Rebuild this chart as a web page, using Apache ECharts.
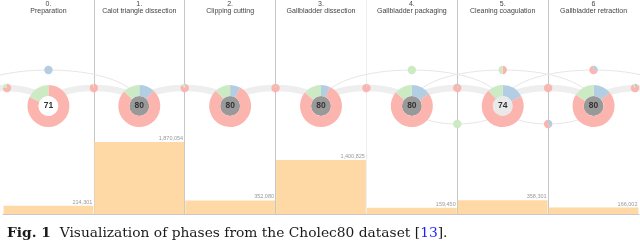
<!DOCTYPE html>
<html><head><meta charset="utf-8">
<script src="https://cdn.jsdelivr.net/npm/echarts@6/dist/echarts.min.js"></script>
<style>html,body{margin:0;padding:0;background:#fff;overflow:hidden}#c{width:640px;height:243px}</style>
</head><body><div id="c"></div>
<script>
// ---------- data ----------
const phaseNames = ['Preparation','Calot triangle dissection','Clipping cutting','Gallbladder dissection','Gallbladder packaging','Cleaning coagulation','Gallbladder retraction'];
const phaseNumbers = ['0.','1.','2.','3.','4.','5.','6'];
const frameCounts = [214301, 1870054, 352080, 1400825, 159450, 358301, 166002];
const videoCounts = [71, 80, 80, 80, 80, 74, 80];
// ring shares per phase, order: blue, red, green (clockwise from 12 o'clock)
const ringBlue  = [0, 12, 8, 7, 15, 17, 14];
const ringRed   = [82, 75, 80, 79, 71, 71, 70];
const ringGreen = [18, 13, 12, 14, 14, 12, 16];
// forward transitions at boundaries 0..7 (boundary k sits between phase k-1 and k)
const linkBlue  = [0, 0, 8, 8, 6, 12, 6, 10];
const linkRed   = [75, 95, 80, 92, 94, 88, 94, 80];
const linkGreen = [25, 5, 12, 0, 0, 0, 0, 10];
// skip transitions drawn above, passing over these phase columns
const skipCols  = [0, 4, 5, 6];
const skipBlue  = [100, 0, 0, 30];
const skipRed   = [0, 0, 50, 70];
const skipGreen = [0, 100, 50, 0];
// backward transitions drawn below, at these boundaries
const backBounds = [5, 6];
const backBlue  = [0, 40];
const backRed   = [0, 60];
const backGreen = [100, 0];

// ---------- layout / style ----------
const palette = ['#b3cde3', '#fbb4ae', '#ccebc5'];
const Y_ROW = 106, Y_LINK = 88, Y_SKIP = 70, Y_BACK = 124;
const R_OUT = 21, R_IN = 10, R_SMALL = 4.2;
const LINE = '#c6c6c6', LINE_FAINT = '#eeeeee';
const CAP_FONT = 13.8;

const chart = echarts.init(document.getElementById('c'), null, {renderer: 'canvas', width: 640, height: 243});

const base = {
  animation: false,
  grid: {left: 3, right: 1, top: 0, bottom: 29, containLabel: false},
  title: {
    left: 2, top: 221,
    text: '{b|Fig. 1}  Visualization of phases from the Cholec80 dataset [{l|13}].',
    textStyle: {
      fontFamily: 'DejaVu Serif', fontSize: CAP_FONT, fontWeight: 'normal', color: '#1a1a1a',
      rich: {
        b: {fontFamily: 'DejaVu Serif', fontSize: CAP_FONT, fontWeight: 'bold', color: '#1a1a1a'},
        l: {fontFamily: 'DejaVu Serif', fontSize: CAP_FONT, color: '#1e1eff'}
      }
    }
  },
  xAxis: [{
    type: 'category', data: phaseNames, boundaryGap: true,
    axisLine: {show: true, lineStyle: {color: '#c8c8c8', width: 1}},
    axisTick: {show: false}, axisLabel: {show: false},
    splitLine: {show: true, interval: 0, showMinLine: false, showMaxLine: false,
      lineStyle: {color: [LINE, LINE, LINE, LINE_FAINT, LINE, LINE, LINE, LINE], width: 1}}
  }, {
    type: 'category', data: phaseNames, position: 'top', gridIndex: 0, boundaryGap: true,
    axisLine: {show: false}, axisTick: {show: false}, splitLine: {show: false},
    axisLabel: {inside: true, interval: 0, margin: 1, fontSize: 7, lineHeight: 7,
      fontFamily: 'Liberation Sans', color: '#444', verticalAlign: 'top',
      formatter: (v, i) => phaseNumbers[i] + '\n' + v}
  }],
  yAxis: [{type: 'value', min: 0, max: 5550000, show: false, splitLine: {show: false}}],
  series: [{
    type: 'bar', data: frameCounts, xAxisIndex: 0, barCategoryGap: '1.2%', silent: true,
    itemStyle: {color: '#fed9a6'},
    label: {show: true, position: 'insideTopRight', distance: 1, offset: [0, -7.5],
      fontSize: 5.5, fontFamily: 'Liberation Sans', color: '#999',
      formatter: p => p.value.toLocaleString('en-US')}
  }]
};
chart.setOption(base);

// positions derived from the category axis
const cx0 = chart.convertToPixel({xAxisIndex: 0}, 0);
const step = chart.convertToPixel({xAxisIndex: 0}, 1) - cx0;
const colX = i => cx0 + step * i;             // phase column centre (virtual outside range)
const bndX = k => cx0 + step * (k - 0.5);     // boundary between k-1 and k
const gridL = cx0 - step / 2, gridR = cx0 + step * (phaseNames.length - 0.5);

function gray(v) {
  const t = (v - 71) / 9;
  const g = Math.round(255 - 102 * Math.pow(Math.max(0, t), 1.4));
  return 'rgb(' + g + ',' + g + ',' + g + ')';
}
function pie(x, y, radius, vals, extra) {
  return Object.assign({
    type: 'pie', center: [x, y], radius: radius, startAngle: 90, clockwise: true,
    silent: true, animation: false, avoidLabelOverlap: false, minAngle: 0, z: 5,
    label: {show: false}, labelLine: {show: false}, emphasis: {disabled: true},
    itemStyle: {borderWidth: 0},
    data: vals.map((v, j) => ({value: v, itemStyle: {color: palette[j]}}))
  }, extra || {});
}

const series = [base.series[0]];
const graphics = [];

function link(xa, xb, yPass, color, width) {
  const h = (yPass - 0.25 * Y_ROW) / 0.75;
  graphics.push({type: 'bezierCurve', silent: true, z: 1,
    shape: {x1: xa, y1: Y_ROW, cpx1: xa, cpy1: h, cpx2: xb, cpy2: h, x2: xb, y2: Y_ROW},
    style: {stroke: color, lineWidth: width, fill: null}});
}
// thick links between neighbouring phases
for (let k = 0; k <= phaseNames.length; k++) link(colX(k - 1), colX(k), Y_LINK, '#eeeeee', 6.5);
// skip links above
skipCols.forEach(c => link(colX(c - 1), colX(c + 1), Y_SKIP, '#e6e6e6', 1));
// backward links below
backBounds.forEach(k => link(colX(k - 1), colX(k), Y_BACK, '#e6e6e6', 1));

// big donuts
phaseNames.forEach((n, i) => {
  const x = colX(i);
  series.push(pie(x, Y_ROW, [0, R_IN], [videoCounts[i]], {
    data: [{value: videoCounts[i], itemStyle: {color: gray(videoCounts[i])}}],
    label: {show: true, position: 'center', formatter: '{c}', fontSize: 8.5,
      fontFamily: 'Liberation Sans', fontWeight: 'bold', color: '#333'}
  }));
  series.push(pie(x, Y_ROW, [R_IN, R_OUT], [ringBlue[i], ringRed[i], ringGreen[i]]));
});
// small transition pies on the boundaries
for (let k = 0; k <= phaseNames.length; k++) {
  let x = bndX(k);
  x = Math.min(Math.max(x, gridL + 4), gridR - 4);
  series.push(pie(x, Y_LINK, [0, R_SMALL], [linkBlue[k], linkRed[k], linkGreen[k]]));
}
skipCols.forEach((c, j) => {
  series.push(pie(colX(c), Y_SKIP, [0, R_SMALL], [skipBlue[j], skipRed[j], skipGreen[j]]));
});
backBounds.forEach((k, j) => {
  series.push(pie(bndX(k), Y_BACK, [0, R_SMALL], [backBlue[j], backRed[j], backGreen[j]]));
});

chart.setOption({series: series, graphic: {elements: graphics}});
</script>
</body></html>
